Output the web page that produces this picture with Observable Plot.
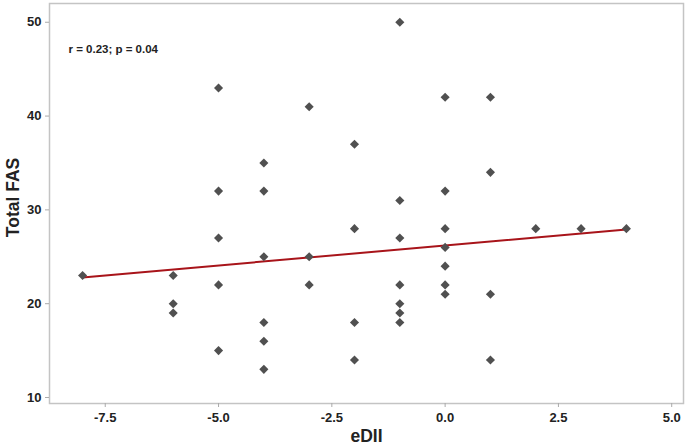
<!DOCTYPE html>
<html>
<head>
<meta charset="utf-8">
<script src="https://cdn.jsdelivr.net/npm/d3@7"></script>
<script src="https://cdn.jsdelivr.net/npm/@observablehq/plot@0.6"></script>
<style>
  html, body { margin: 0; padding: 0; background: #fff; }
  #chart svg { font-family: "Liberation Sans", Arial, sans-serif; }
  #chart g[aria-label="x-axis tick label"] text,
  #chart g[aria-label="y-axis tick label"] text { font-size: 13px; font-weight: bold; fill: #222; }
</style>
</head>
<body>
<div id="chart"></div>
<script>
// eDII values and Total FAS values for each subject
const edii = [
  -8,
  -6, -6, -6,
  -5, -5, -5, -5, -5,
  -4, -4, -4, -4, -4, -4,
  -3, -3, -3,
  -2, -2, -2, -2,
  -1, -1, -1, -1, -1, -1, -1,
  0, 0, 0, 0, 0, 0, 0,
  1, 1, 1, 1,
  2, 3, 4
];
const fas = [
  23,
  23, 20, 19,
  43, 32, 27, 22, 15,
  35, 32, 25, 18, 16, 13,
  41, 25, 22,
  37, 28, 18, 14,
  50, 31, 27, 22, 20, 19, 18,
  42, 32, 28, 26, 24, 22, 21,
  42, 34, 21, 14,
  28, 28, 28
];
// fitted line
const fitX = [-8, 4];
const fitY = [22.8, 27.9];
const xTicks = [-7.5, -5.0, -2.5, 0.0, 2.5, 5.0];
const yTicks = [10, 20, 30, 40, 50];
const xLabel = "eDII";
const yLabel = "Total FAS";
const annotation = "r = 0.23; p = 0.04";

const points = edii.map((x, i) => ({x, y: fas[i]}));
const fit = fitX.map((x, i) => ({x, y: fitY[i]}));

const chart = Plot.plot({
  width: 685,
  height: 445,
  marginLeft: 49,
  marginRight: 2,
  marginTop: 3,
  marginBottom: 42,
  x: {domain: [-8.73, 5.26]},
  y: {domain: [9.36, 52.0]},
  marks: [
    Plot.frame({stroke: "#c4c4c4", strokeWidth: 1.5}),
    Plot.axisX({
      ticks: xTicks, tickSize: 4, stroke: "#aaa",
      tickFormat: d => d.toFixed(1), tickPadding: 5,
      label: null
    }),
    Plot.axisY({
      ticks: yTicks, tickSize: 4, stroke: "#aaa", tickPadding: 4,
      label: null
    }),
    Plot.text([xLabel], {
      frameAnchor: "bottom", lineAnchor: "middle", textAnchor: "middle",
      dx: 0, dy: 32.5,
      fontSize: 17.5, fontWeight: "bold", fill: "#222"
    }),
    Plot.text([yLabel], {
      frameAnchor: "left", lineAnchor: "middle", textAnchor: "middle",
      dx: -36, dy: -6, rotate: -90,
      fontSize: 17.5, fontWeight: "bold", fill: "#222"
    }),
    Plot.line(fit, {x: "x", y: "y", stroke: "#a8141a", strokeWidth: 2}),
    Plot.dot(points, {x: "x", y: "y", symbol: "diamond2", r: 4.1, fill: "#505050", stroke: "none"}),
    Plot.text([annotation], {
      frameAnchor: "top-left", dx: 19, dy: 41,
      fontSize: 11.5, fontWeight: "bold", fill: "#222"
    })
  ]
});
document.getElementById("chart").append(chart);
</script>
</body>
</html>
